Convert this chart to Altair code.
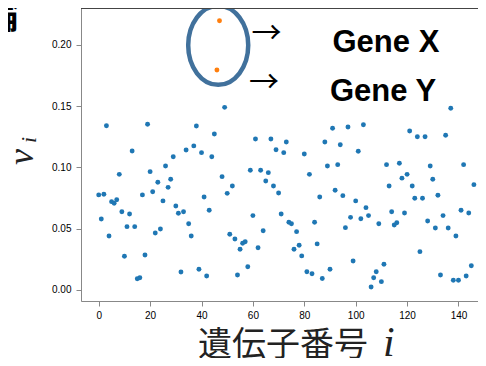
import altair as alt
import pandas as pd

# v_i for gene index i = 0, 1, 2, ...
v_values = [
    0.0776, 0.0580, 0.0781, 0.1341, 0.0441, 0.0721, 0.0708, 0.0737, 0.0944, 0.0639,
    0.0275, 0.0517, 0.0620, 0.1135, 0.0517, 0.0092, 0.0100, 0.0776, 0.0286, 0.1353,
    0.0966, 0.0802, 0.0465, 0.0879, 0.0498, 0.0727, 0.1012, 0.0838, 0.0904, 0.1088,
    0.0686, 0.0626, 0.0147, 0.0639, 0.1143, 0.0541, 0.0441, 0.1176, 0.1339, 0.0169,
    0.1121, 0.0759, 0.0114, 0.0651, 0.1088, 0.1273, 0.1796, 0.2198, 0.0925, 0.1491,
    0.0789, 0.0455, 0.0849, 0.0416, 0.0122, 0.0332, 0.0381, 0.0394, 0.0190, 0.0977,
    0.0607, 0.1233, 0.0345, 0.0977, 0.0484, 0.0890, 0.0958, 0.1233, 0.0849, 0.1145,
    0.0792, 0.0620, 0.1121, 0.1208, 0.0553, 0.0541, 0.0332, 0.0476, 0.0365, 0.0278,
    0.1110, 0.0149, 0.0944, 0.0133, 0.0553, 0.0376, 0.0759, 0.0094, 0.1208, 0.1012,
    0.0169, 0.1320, 0.0814, 0.1023, 0.1186, 0.0770, 0.0509, 0.1331, 0.0593, 0.0237,
    0.0727, 0.1132, 0.0582, 0.1349, 0.0672, 0.0607, 0.0024, 0.0100, 0.0149, 0.0541,
    0.0068, 0.0210, 0.1023, 0.0849, 0.0639, 0.0531, 0.0549, 0.1034, 0.0913, 0.0629,
    0.0944, 0.1298, 0.0849, 0.0749, 0.1251, 0.0313, 0.0749, 0.1251, 0.0563, 0.1012,
    0.0904, 0.0506, 0.0773, 0.0122, 0.0607, 0.1263, 0.0506, 0.1483, 0.0079, 0.0441,
    0.0079, 0.0651, 0.1023, 0.0114, 0.0629, 0.0198, 0.0860,
]
highlight_index = [47, 46]
highlight_genes = ["Gene X", "Gene Y"]
x_ticks = [0, 20, 40, 60, 80, 100, 120, 140]
y_ticks = [0.00, 0.05, 0.10, 0.15, 0.20]
x_title = "遺伝子番号"
math_symbol = "v"
math_index = "i"
corner_char = "論"

W, H = 397, 293
AX = "#444444"

df = pd.DataFrame({"i": list(range(len(v_values))), "v": v_values})
df["group"] = ["highlight" if k in highlight_index else "normal" for k in df["i"]]
hl = pd.DataFrame({
    "i": highlight_index,
    "v": [v_values[k] for k in highlight_index],
    "label": highlight_genes,
})
one = pd.DataFrame({"k": [0]})

xs = alt.Scale(domain=[-6.9, 147.6], nice=False, zero=False)
ys = alt.Scale(domain=[-0.0090, 0.2302], nice=False, zero=False)
x_axis = alt.Axis(values=x_ticks, format="d", title=None, grid=False, labelPadding=4, labelFlush=False)
y_axis = alt.Axis(values=y_ticks, format=".2f", title=None, grid=False, labelPadding=5, labelFlush=False)


def X(field):
    return alt.X(field, type="quantitative", scale=xs, axis=x_axis, title=None)


def Y(field):
    return alt.Y(field, type="quantitative", scale=ys, axis=y_axis, title=None)


points = alt.Chart(df).mark_circle(size=24, opacity=1).encode(
    x=X("i"), y=Y("v"),
    color=alt.Color("group:N", scale=alt.Scale(domain=["normal", "highlight"],
                                               range=["#1f77b4", "#ff7f0e"]), legend=None),
    order=alt.Order("group:N", sort="descending"),
)

ellipse_path = ("M -0.76 0 C -0.76 -0.552 -0.42 -1 0 -1 C 0.42 -1 0.76 -0.552 0.76 0 "
                "C 0.76 0.552 0.42 1 0 1 C -0.42 1 -0.76 0.552 -0.76 0 Z")
ellipse = alt.Chart(hl).transform_aggregate(
    i="mean(i)", v="mean(v)"
).mark_point(shape=ellipse_path, size=6241, filled=False, stroke="#41719c",
             strokeWidth=4.5, opacity=1, dx=1, dy=1).encode(x=X("i"), y=Y("v"))

arrows = alt.Chart(hl).mark_text(text="→", align="left", baseline="middle", dx=32, dy=13,
                                 font="Noto Sans CJK JP", fontSize=30, color="black").encode(
    x=X("i"), y=Y("v"))

labels = alt.Chart(hl).mark_text(align="left", baseline="alphabetic", dx=113, dy=31,
                                 font="Liberation Sans", fontWeight="bold", fontSize=31,
                                 color="black").encode(
    x=X("i"), y=Y("v"), text="label:N")

top_spine = alt.Chart(one).mark_rule(color=AX, strokeWidth=1.2).encode(
    x=alt.value(0), x2=alt.value(W), y=alt.value(0.5)
)

y_t1 = alt.Chart(one).mark_text(text=math_symbol, angle=270, align="center", baseline="alphabetic",
                                font="Liberation Serif", fontStyle="italic", fontSize=36,
                                color="#222").encode(x=alt.value(-48), y=alt.value(149))
y_t2 = alt.Chart(one).mark_text(text=math_index, angle=270, align="center", baseline="alphabetic",
                                font="Liberation Serif", fontStyle="italic", fontSize=22,
                                color="#222").encode(x=alt.value(-45), y=alt.value(132))

x_t1 = alt.Chart(one).mark_text(text=x_title, align="left", baseline="alphabetic",
                                font="Noto Sans CJK JP", fontSize=34, color="#222").encode(
    x=alt.value(117), y=alt.value(348))
x_t2 = alt.Chart(one).mark_text(text=math_index, align="left", baseline="alphabetic",
                                font="Liberation Serif", fontStyle="italic", fontSize=42,
                                color="#222").encode(x=alt.value(302), y=alt.value(348))

corner = alt.Chart(one).mark_text(text=corner_char, align="right", baseline="alphabetic",
                                  font="Noto Sans CJK JP", fontWeight="bold", fontSize=38,
                                  color="black").encode(x=alt.value(-62), y=alt.value(20))

chart = alt.layer(
    points, ellipse, arrows, labels, top_spine, y_t1, y_t2, x_t1, x_t2, corner
).properties(
    width=W, height=H,
    autosize=alt.AutoSizeParams(type="none"),
    padding={"left": 73, "top": 0, "right": 0, "bottom": 57},
).configure_view(stroke=None).configure_axis(
    domainColor=AX, domainWidth=1.2, tickColor=AX, tickSize=4, tickWidth=1.2,
    labelColor=AX, labelFont="DejaVu Sans", labelFontSize=12,
).configure(background="white")

chart.save("out.html", embed_options={"renderer": "svg", "actions": False})
